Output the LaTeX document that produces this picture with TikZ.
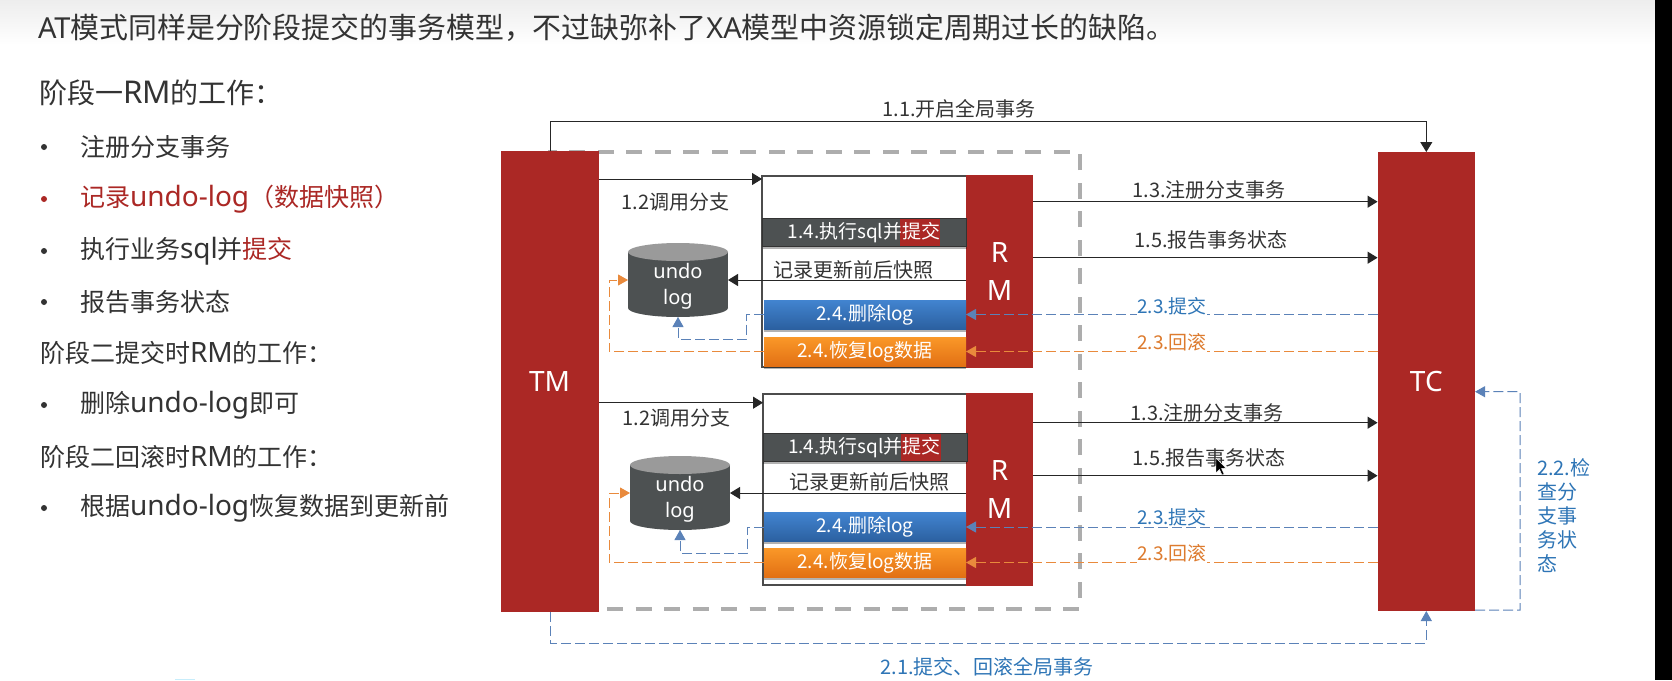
\documentclass[tikz,border=0pt]{standalone}
\usepackage{fontspec}
\setmainfont{Noto Sans CJK SC}
\newfontfamily\latf{Noto Sans}
\newfontfamily\latw[Scale=1.12]{Noto Sans}
\newcommand{\lat}[1]{{\latf #1}}
\newcommand{\latb}[1]{{\latw #1}}
\newcommand{\dn}[1]{\raisebox{-1.5pt}{#1}}
\usetikzlibrary{arrows.meta,calc,shadows}
\definecolor{brick}{HTML}{AB2825}
\definecolor{inkc}{HTML}{333333}
\definecolor{dbdark}{HTML}{4D5152}
\definecolor{dbtop}{HTML}{9A9A9A}
\definecolor{bluel}{HTML}{5B82B8}
\definecolor{bluet}{HTML}{2E75B6}
\definecolor{orangel}{HTML}{E98A3C}
\definecolor{oranget}{HTML}{DD7B2E}
\tikzset{
  x=1pt,y=-1pt,
  blockbox/.style={fill=brick,inner sep=0pt,outer sep=0pt,text=white,font=\latf\fontsize{28}{30}\selectfont,align=center},
  framebox/.style={draw=black!70,line width=1.6pt,fill=white,inner sep=0pt,outer sep=0pt},
  barbase/.style={inner sep=0pt,outer sep=0pt,text=white,font=\fontsize{19}{22}\selectfont,minimum width=202pt,minimum height=29pt,drop shadow={shadow xshift=0pt,shadow yshift=-2.5pt,opacity=.3,fill=black}},
  darkbar/.style={barbase,fill=dbdark,draw=black!80,line width=.8pt,minimum width=204pt,minimum height=28pt},
  bluebar/.style={barbase,top color={rgb,255:red,66;green,132;blue,208},bottom color={rgb,255:red,43;green,96;blue,160}},
  orangebar/.style={barbase,top color={rgb,255:red,250;green,152;blue,40},bottom color={rgb,255:red,226;green,112;blue,20}},
  lbl/.style={text=inkc,font=\fontsize{20}{22}\selectfont,inner sep=0pt,outer sep=0pt},
  bluelbl/.style={lbl,text=bluet,font=\fontsize{19}{22}\selectfont},
  orangelbl/.style={lbl,text=oranget,font=\fontsize{19}{22}\selectfont},
  para/.style={anchor=west,text=inkc,font=\fontsize{25}{28}\selectfont,inner sep=0pt,outer sep=0pt},
  bulletdot/.style={circle,fill=inkc,minimum size=6pt,inner sep=0pt},
  solidarrow/.style={draw=black!85,line width=1pt,-{Triangle[length=10pt,width=12pt]}},
  bluearrow/.style={draw=bluel,line width=1pt,dash pattern=on 10pt off 4pt,-{Triangle[length=10pt,width=11pt,fill=bluel]}},
  orangearrow/.style={draw=orangel,line width=1pt,dash pattern=on 10pt off 4pt,-{Triangle[length=10pt,width=11pt,fill=orangel]}},
}
\newcommand{\dbcyl}[3]{%
  \node[minimum width=100pt,minimum height=74pt,inner sep=0pt,outer sep=0pt] (#1) at (#2,#3) {};
  \fill[dbdark] ($(#1.north west)+(0,9)$) rectangle ($(#1.south east)+(0,-9)$);
  \fill[dbdark] ($(#1.south)+(0,-9)$) ellipse [x radius=50,y radius=9];
  \fill[dbtop] ($(#1.north)+(0,9)$) ellipse [x radius=50,y radius=9];
  \node[text=white,font=\latf\fontsize{20}{26}\selectfont,align=center,inner sep=0pt] (#1t) at ($(#1.center)+(0,6)$) {undo\\log};
}
\begin{document}
\begin{tikzpicture}
\useasboundingbox (0,0) rectangle (1672,680);
\fill[white] (0,0) rectangle (1672,680);
\shade[top color=black!7,bottom color=white] (0,0) rectangle (1655,45);
\fill[black] (1655,0) rectangle (1672,680);
\fill[cyan!22!white] (175,678.5) rectangle (195,680);

% left column
\node[para,font=\fontsize{28.9}{32}\selectfont] (title) at (38,28) {\lat{AT}模式同样是分阶段提交的事务模型，不过缺弥补了\lat{XA}模型中资源锁定周期过长的缺陷。};
\node[para,font=\fontsize{28}{32}\selectfont] (h1) at (39,93) {阶段一\latb{RM}的工作：};
\node[bulletdot] (b1) at (44,147) {};
\node[para] (t1) at (80,147) {注册分支事务};
\node[bulletdot,fill=brick] (b2) at (44,199) {};
\node[para,text=brick] (t2) at (80,199) {记录\latb{undo-log}（数据快照）};
\node[bulletdot] (b3) at (44,251) {};
\node[para] (t3) at (80,251) {执行业务\latb{sql}并\textcolor{brick}{提交}};
\node[bulletdot] (b4) at (44,302) {};
\node[para] (t4) at (80,302) {报告事务状态};
\node[para] (h2) at (40,353) {阶段二提交时\latb{RM}的工作：};
\node[bulletdot] (b5) at (44,405) {};
\node[para] (t5) at (80,405) {删除\latb{undo-log}即可};
\node[para] (h3) at (40,457) {阶段二回滚时\latb{RM}的工作：};
\node[bulletdot] (b6) at (44,508) {};
\node[para] (t6) at (80,508) {根据\latb{undo-log}恢复数据到更新前};

% dashed group
\node[draw=black!32,line width=3.2pt,dash pattern=on 16pt off 12.5pt,minimum width=530pt,minimum height=457pt,inner sep=0pt] (grp) at (815,380.5) {};

% frames
\node[framebox,minimum width=240pt,minimum height=191pt] (f1) at (882,271.5) {};
\node[framebox,minimum width=240pt,minimum height=191pt] (f2) at (883,489.5) {};

% big blocks
\node[blockbox,minimum width=98pt,minimum height=461pt] (tm) at (549.5,381.5) {TM};
\node[blockbox,minimum width=97.5pt,minimum height=459pt] (tc) at (1426.3,381.5) {TC};
\node[blockbox,minimum width=67pt,minimum height=193pt,font=\latf\fontsize{28}{38.6}\selectfont] (rm1) at (999.5,271.5) {R\\M};
\node[blockbox,minimum width=67pt,minimum height=193pt,font=\latf\fontsize{28}{38.6}\selectfont] (rm2) at (999.5,489.5) {R\\M};

% upper bars
\node[darkbar] (d1) at (864.5,232) {};
\fill[brick] (900,218.5) rectangle (940,245.5);
\node[lbl,text=white,font=\fontsize{19}{22}\selectfont] (d1t) at (864,232.5) {1.4.执行sql并提交};
\node[bluebar] (bb1) at (865,314.5) {\dn{2.4.删除log}};
\node[orangebar] (ob1) at (865,351.5) {\dn{2.4.恢复log数据}};
% lower bars
\node[darkbar] (d2) at (865,447) {};
\fill[brick] (901,433.5) rectangle (941,460.5);
\node[lbl,text=white,font=\fontsize{19}{22}\selectfont] (d2t) at (864.5,447.5) {1.4.执行sql并提交};
\node[bluebar] (bb2) at (865,527) {\dn{2.4.删除log}};
\node[orangebar] (ob2) at (865,562.5) {\dn{2.4.恢复log数据}};

% databases
\dbcyl{db1}{678}{280}
\dbcyl{db2}{680}{493}

% named free ends
\coordinate (topbend) at (550.4,121);
\coordinate (botbend) at (550.4,643);
\coordinate (chkbend) at (1520,391.7);

% global connectors
\draw[solidarrow] (tm.north -| topbend) -- (topbend) -- (topbend -| tc.north) -- (tc.north);
\draw[bluearrow] (tm.south -| botbend) -- (botbend) -- (botbend -| tc.south) -- (tc.south);
\draw[bluearrow] (tc.south east) ++(0,-1) -- ++(45,0) -- (chkbend) -- (chkbend -| tc.east);

% upper group connectors
\draw[solidarrow] (tm.east |- 0,179) -- (f1.west |- 0,179);
\draw[solidarrow] (rm1.east |- 0,201.7) -- (tc.west |- 0,201.7);
\draw[solidarrow] (rm1.east |- 0,257.7) -- (tc.west |- 0,257.7);
\draw[solidarrow] (rm1.west |- db1.east) -- (db1.east);
\draw[bluearrow] (tc.west |- bb1.west) -- (rm1.west |- bb1.west);
\draw[orangearrow] (tc.west |- ob1.west) -- (rm1.west |- ob1.west);
\draw[bluearrow] (bb1.west) -- (746,314.5) -- (746,339) -- (db1.south |- 0,339) -- (db1.south);
\draw[orangearrow] (ob1.west) -- (609,351.5) -- (609,280) -- (db1.west);

% lower group connectors
\draw[solidarrow] (tm.east |- 0,402.7) -- (f2.west |- 0,402.7);
\draw[solidarrow] (rm2.east |- 0,422.7) -- (tc.west |- 0,422.7);
\draw[solidarrow] (rm2.east |- 0,475.7) -- (tc.west |- 0,475.7);
\draw[solidarrow] (rm2.west |- db2.east) -- (db2.east);
\draw[bluearrow] (tc.west |- bb2.west) -- (rm2.west |- bb2.west);
\draw[orangearrow] (tc.west |- ob2.west) -- (rm2.west |- ob2.west);
\draw[bluearrow] (bb2.west) -- (747.7,527) -- (747.7,553) -- (db2.south |- 0,553) -- (db2.south);
\draw[orangearrow] (ob2.west) -- (609,562.5) -- (609,493) -- (db2.west);

% labels
\node[lbl] (l11) at (959,109) {1.1.开启全局事务};
\node[lbl] (l12a) at (675.7,202) {1.2调用分支};
\node[lbl] (l12b) at (676.5,418) {1.2调用分支};
\node[lbl] (lra) at (853,270) {记录更新前后快照};
\node[lbl] (lrb) at (869.5,482) {记录更新前后快照};
\node[lbl] (l13a) at (1209,190) {1.3.注册分支事务};
\node[lbl] (l15a) at (1211,240) {1.5.报告事务状态};
\node[lbl] (l13b) at (1207,412.5) {1.3.注册分支事务};
\node[lbl] (l15b) at (1209,457.5) {1.5.报告事务状态};
\node[bluelbl,fill=white,inner ysep=1pt] (l23a) at (1172,306) {2.3.提交};
\node[orangelbl,fill=white,inner ysep=1pt] (l23b) at (1172,342) {2.3.回滚};
\node[bluelbl,fill=white,inner ysep=1pt] (l23c) at (1172,517) {2.3.提交};
\node[orangelbl,fill=white,inner ysep=1pt] (l23d) at (1172,553) {2.3.回滚};
\node[bluelbl,font=\fontsize{20}{24}\selectfont] (l21) at (987,667) {2.1.提交、回滚全局事务};
\node[bluelbl,font=\fontsize{20}{24}\selectfont,align=left,anchor=north west] (l22) at (1537,459) {2.2.检\\查分\\支事\\务状\\态};

% cursor
\fill[black,draw=white,line width=.4pt] (1216,458) -- (1216,473) -- (1219.5,469.5) -- (1222,475) -- (1224,474) -- (1221.5,468.5) -- (1226,468) -- cycle;
\end{tikzpicture}
\end{document}
